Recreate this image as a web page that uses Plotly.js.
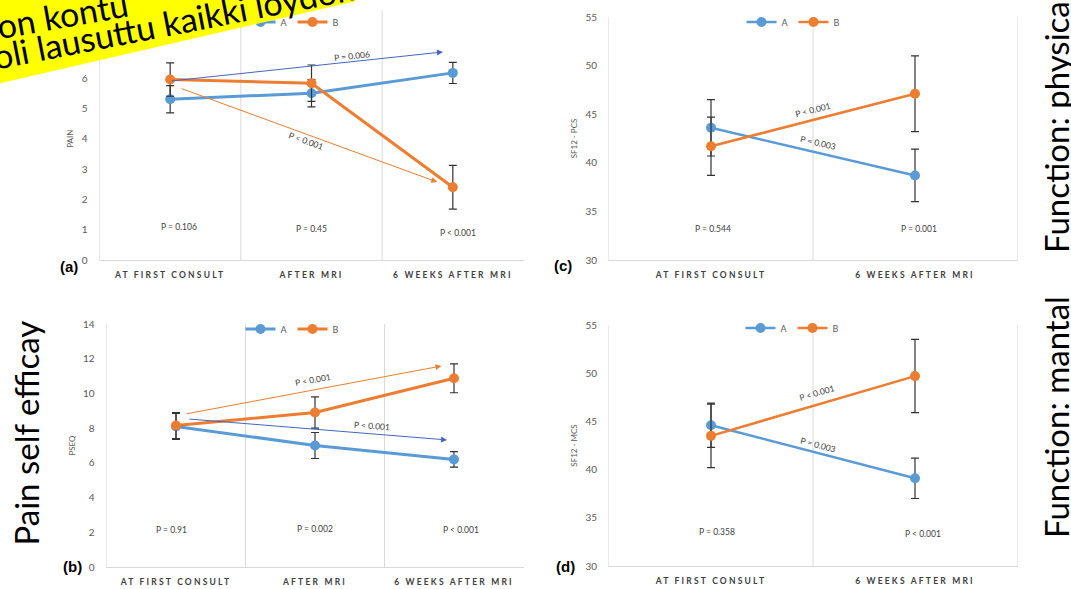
<!DOCTYPE html>
<html>
<head>
<meta charset="utf-8">
<script src="https://cdn.plot.ly/plotly-3.0.1.min.js"></script>
<style>
html,body{margin:0;padding:0;background:#fff;}
#chart{width:1071px;height:589px;}
#chart .xaxislayer-above text{letter-spacing:2.2px !important;}
</style>
</head>
<body>
<div id="chart"></div>
<script>
// ---------- data ----------
const cats3 = ["AT FIRST CONSULT", "AFTER MRI", "6 WEEKS AFTER MRI"];
const cats2 = ["AT FIRST CONSULT", "6 WEEKS AFTER MRI"];
const seriesNames = ["A", "B"];

// (a) PAIN
const painA = [5.3, 5.5, 6.17];
const painAerr = [0.45, 0.45, 0.35];
const painB = [5.95, 5.83, 2.4];
const painBerr = [0.55, 0.6, 0.72];
// (b) PSEQ
const pseqA = [8.1, 7.0, 6.2];
const pseqAerr = [0.75, 0.75, 0.45];
const pseqB = [8.15, 8.9, 10.87];
const pseqBerr = [0.75, 0.9, 0.83];
// (c) SF12 - PCS
const pcsA = [43.6, 38.7];
const pcsAerr = [2.9, 2.7];
const pcsB = [41.7, 47.1];
const pcsBerr = [3.0, 3.9];
// (d) SF12 - MCS
const mcsA = [44.6, 39.1];
const mcsAerr = [2.3, 2.1];
const mcsB = [43.5, 49.7];
const mcsBerr = [3.3, 3.8];

// p-value labels per time point
const pPain = ["P = 0.106", "P = 0.45", "P < 0.001"];
const pPseq = ["P = 0.91", "P = 0.002", "P < 0.001"];
const pPcs = ["P = 0.544", "P = 0.001"];
const pMcs = ["P = 0.358", "P < 0.001"];
// within-group trend labels
const trendPain = ["P = 0.006", "P < 0.001"];
const trendPseq = ["P < 0.001", "P < 0.001"];
const trendPcs = ["P < 0.001", "P = 0.003"];
const trendMcs = ["P < 0.001", "P = 0.003"];

// overlay texts
const bannerLines = ["on kontu", "oli lausuttu kaikki löydök"];
const sideLabels = ["Pain self efficay", "Function: physical", "Function: mantal"];

// ---------- style ----------
const W = 1071, H = 589;
const px = x => x / W;
const py = y => 1 - y / H;
const COL_A = "#5B9BD5", COL_B = "#ED7D31", ARROW_A = "#4466C0";
const GRAY = "#595959", DARK = "#404040", SEP = "#D9D9D9";
const FONT = "Lato, 'Open Sans', sans-serif";

function tr(x, y, err, name, color, xa, ya, leg, lw) {
  return {
    x: x, y: y, name: name, type: "scatter", mode: "lines+markers",
    xaxis: xa, yaxis: ya, legend: leg, showlegend: true,
    line: {color: color, width: lw},
    marker: {color: color, size: 10},
    error_y: {type: "data", array: err, visible: true, color: "#333333", thickness: 1.2, width: 4}
  };
}

const data = [
  tr(cats3, painA, painAerr, seriesNames[0], COL_A, "x", "y", "legend", 3),
  tr(cats3, painB, painBerr, seriesNames[1], COL_B, "x", "y", "legend", 3),
  tr(cats3, pseqA, pseqAerr, seriesNames[0], COL_A, "x2", "y2", "legend2", 3),
  tr(cats3, pseqB, pseqBerr, seriesNames[1], COL_B, "x2", "y2", "legend2", 3),
  tr(cats2, pcsA, pcsAerr, seriesNames[0], COL_A, "x3", "y3", "legend3", 2.5),
  tr(cats2, pcsB, pcsBerr, seriesNames[1], COL_B, "x3", "y3", "legend3", 2.5),
  tr(cats2, mcsA, mcsAerr, seriesNames[0], COL_A, "x4", "y4", "legend4", 2.5),
  tr(cats2, mcsB, mcsBerr, seriesNames[1], COL_B, "x4", "y4", "legend4", 2.5)
];

function xax(d0, d1, n, anchor) {
  return {
    domain: [px(d0), px(d1)], anchor: anchor, type: "category",
    range: [-0.5, n - 0.5], showgrid: false, zeroline: false,
    showline: true, linecolor: SEP, linewidth: 1, ticks: "",
    ticklabelstandoff: 7,
    tickfont: {family: FONT, size: 8.5, color: DARK, weight: "bold"},
    fixedrange: true
  };
}
function yax(top, bottom, range, dtick, title, anchor, mirror) {
  return {
    domain: [py(bottom), py(top)], anchor: anchor, range: range, dtick: dtick,
    showgrid: false, zeroline: false, showline: true, linecolor: "#EBEBEB",
    mirror: mirror, ticks: "", ticklabelstandoff: 9,
    tickfont: {family: FONT, size: 10, color: GRAY},
    title: {text: title, font: {family: FONT, size: 8, color: GRAY}, standoff: 6},
    fixedrange: true
  };
}

function legendAt(cx, cy) {
  return {
    x: px(cx), y: py(cy), xanchor: "center", yanchor: "middle",
    orientation: "h", bgcolor: "rgba(0,0,0,0)", itemwidth: 30,
    font: {family: FONT, size: 9, color: GRAY}, tracegroupgap: 0, traceorder: "normal"
  };
}

function sep(xa, ya, xv, top) {
  return {type: "line", xref: xa, yref: ya + " domain", x0: xv, x1: xv, y0: 0, y1: top || 1,
          line: {color: SEP, width: 1}, layer: "below"};
}

function ptxt(xa, ya, x, y, text, angle, color) {
  return {xref: xa, yref: ya, x: x, y: y, text: text, showarrow: false,
          textangle: angle || 0, font: {family: FONT, size: 8.5, color: color || DARK}};
}
function arrow(xa, ya, x0, y0, x1, y1, color) {
  return {xref: xa, yref: ya, axref: xa, ayref: ya, x: x1, y: y1, ax: x0, ay: y0,
          text: "", showarrow: true, arrowhead: 2, arrowsize: 1.2, arrowwidth: 1,
          arrowcolor: color, standoff: 0, startstandoff: 0};
}
function panelLabel(x, y, t) {
  return {xref: "paper", yref: "paper", x: px(x), y: py(y), text: t, showarrow: false,
          font: {family: "'Liberation Sans', Arial, sans-serif", size: 15, color: "#000", weight: "bold"}};
}
function bigLabel(x, yBottom, t) {
  return {xref: "paper", yref: "paper", x: px(x), y: py(yBottom), text: t, showarrow: false,
          textangle: -90, xanchor: "center", yanchor: "bottom",
          font: {family: FONT, size: 33, color: "#000"}};
}
function bannerText(cx, cy, t, ang) {
  return {xref: "paper", yref: "paper", x: px(cx), y: py(cy), xanchor: "center", yanchor: "middle",
          text: t, showarrow: false, textangle: ang,
          font: {family: FONT, size: 34, color: "#000"}};
}

const annotations = [
  // (a)
  ptxt("x", "y", 0.06, 1.09, pPain[0]),
  ptxt("x", "y", 1.0, 1.02, pPain[1]),
  ptxt("x", "y", 2.04, 0.89, pPain[2]),
  arrow("x", "y", 0, 5.9, 1.93, 6.86, ARROW_A),
  arrow("x", "y", 0.07, 5.67, 1.89, 2.57, COL_B),
  ptxt("x", "y", 1.29, 6.74, trendPain[0], -6),
  ptxt("x", "y", 0.96, 3.92, trendPain[1], 20),
  // (b)
  ptxt("x2", "y2", -0.03, 2.13, pPseq[0]),
  ptxt("x2", "y2", 1.0, 2.19, pPseq[1]),
  ptxt("x2", "y2", 2.05, 2.13, pPseq[2]),
  arrow("x2", "y2", 0.065, 8.81, 1.91, 11.58, COL_B),
  arrow("x2", "y2", 0.086, 8.53, 1.95, 7.32, ARROW_A),
  ptxt("x2", "y2", 0.985, 10.77, trendPseq[0], -10),
  ptxt("x2", "y2", 1.41, 8.12, trendPseq[1], 4),
  // (c)
  ptxt("x3", "y3", 0.01, 33.2, pPcs[0]),
  ptxt("x3", "y3", 1.02, 33.2, pPcs[1]),
  ptxt("x3", "y3", 0.5, 45.4, trendPcs[0], -14),
  ptxt("x3", "y3", 0.525, 42.0, trendPcs[1], 13),
  // (d)
  ptxt("x4", "y4", 0.03, 33.5, pMcs[0]),
  ptxt("x4", "y4", 1.04, 33.3, pMcs[1]),
  ptxt("x4", "y4", 0.52, 47.9, trendMcs[0], -16),
  ptxt("x4", "y4", 0.525, 42.55, trendMcs[1], 15),
  // panel letters
  panelLabel(58, 267, "(a)"),
  panelLabel(61, 577, "(b)"),
  panelLabel(563, 265, "(c)"),
  panelLabel(565, 577, "(d)"),
  // side labels
  bigLabel(25, 548, sideLabels[0]),
  bigLabel(1056, 255, sideLabels[1]),
  bigLabel(1056, 540, sideLabels[2]),
  // yellow banner: one tilted highlight box, then the words on top
  {xref: "paper", yref: "paper", x: px(136), y: py(0), xanchor: "center", yanchor: "middle",
   text: "&nbsp;", showarrow: false, textangle: -13, width: 426, height: 100,
   bgcolor: "#FFFF00", borderpad: 0, font: {family: FONT, size: 10, color: "#FFFF00"}},
  bannerText(62, 14, bannerLines[0], -10),
  bannerText(173, 21, bannerLines[1], -11)
];

const layout = {
  width: W, height: H, margin: {l: 0, r: 0, t: 0, b: 0},
  paper_bgcolor: "#fff", plot_bgcolor: "rgba(0,0,0,0)",
  xaxis: xax(99.5, 523.5, 3, "y"),
  yaxis: yax(17.4, 260, [0, 8], 1, "PAIN", "x", false),
  xaxis2: xax(106.5, 523.5, 3, "y2"),
  yaxis2: yax(324, 567, [0, 14], 2, "PSEQ", "x2", false),
  xaxis3: xax(609, 1017, 2, "y3"),
  yaxis3: yax(17, 260, [30, 55], 5, "SF12 - PCS", "x3", true),
  xaxis4: xax(609, 1017, 2, "y4"),
  yaxis4: yax(325, 566, [30, 55], 5, "SF12 - MCS", "x4", true),
  legend: legendAt(292, 22),
  legend2: legendAt(292, 329),
  legend3: legendAt(793, 22),
  legend4: legendAt(792, 328),
  shapes: [
    sep("x", "y", 0.5, 1.03), sep("x", "y", 1.5, 1.03),
    sep("x2", "y2", 0.5), sep("x2", "y2", 1.5),
    sep("x3", "y3", 0.5), sep("x4", "y4", 0.5)
  ],
  annotations: annotations,
  showlegend: true
};

function spaceTicks(gd) {
  gd.querySelectorAll(".xaxislayer-above text").forEach(function (t) {
    t.setAttribute("letter-spacing", "2.2");
    t.style.setProperty("letter-spacing", "2.2px", "important");
  });
}

Plotly.newPlot("chart", data, layout, {staticPlot: true, displayModeBar: false}).then(function (gd) {
  spaceTicks(gd);
  gd.on("plotly_afterplot", function () { spaceTicks(gd); });
  setTimeout(function () { spaceTicks(gd); }, 50);
});
</script>
</body>
</html>
